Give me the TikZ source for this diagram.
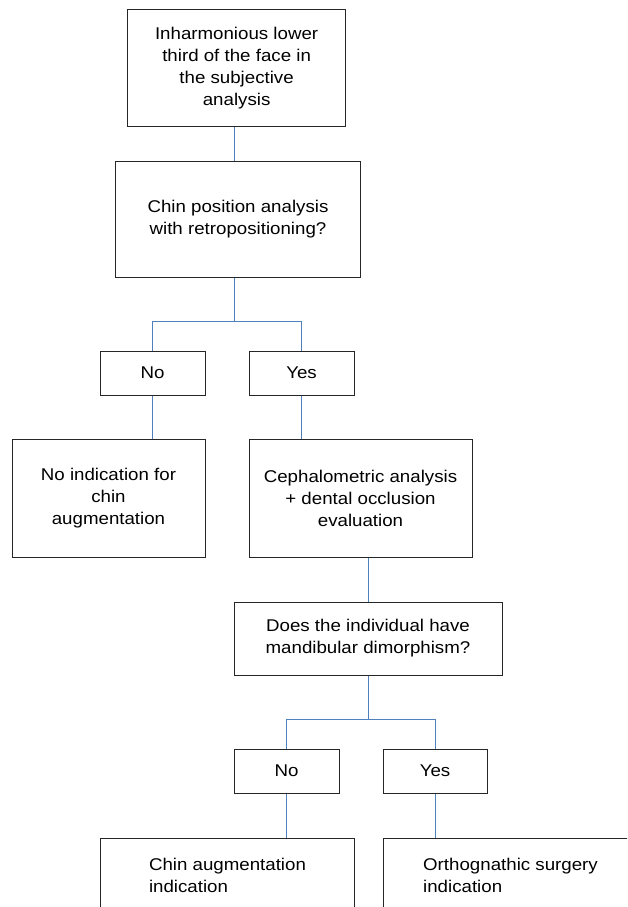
\documentclass[tikz,border=0pt]{standalone}
\usepackage{fontspec}
\setmainfont{Liberation Sans}[FakeStretch=1.1]
\definecolor{linkblue}{RGB}{79,129,189}
\newcommand{\diafont}{\fontsize{17}{22}\selectfont}

\begin{document}
\begin{tikzpicture}[
        x=1pt, y=-1pt, % pixel grid of the figure
        box/.style={draw=black!85, line width=1pt, rectangle, align=center, inner sep=0pt, font=\diafont},
        answer/.style={box, minimum width=105, minimum height=44},
        leaf/.style={box, anchor=north west, align=left, minimum width=254, minimum height=73},
        link/.style={draw=linkblue, line width=0.8pt}
    ]
    \useasboundingbox (0,0) rectangle (627,907);
    \clip (0,0) rectangle (627,907);
    % Question nodes
    \node[box, minimum width=218, minimum height=117] (start) at (236.6,68) {Inharmonious lower\\third of the face in\\the subjective\\analysis};
    \node[box, minimum width=245, minimum height=116] (chin) at (238,219) {Chin position analysis\\with retropositioning?};
    \node[answer] (no1) at (152.5,373) {No};
    \node[answer] (yes1) at (301.5,373) {Yes};
    \node[box, minimum width=193, minimum height=118] (noind) at (108.5,498) {No indication for\\chin\\augmentation};
    \node[box, minimum width=223, minimum height=118] (ceph) at (360.5,498) {Cephalometric analysis\\+ dental occlusion\\evaluation};
    \node[box, minimum width=268, minimum height=73] (does) at (368,638.5) {Does the individual have\\mandibular dimorphism?};
    \node[answer] (no2) at (286.5,771) {No};
    \node[answer, minimum width=104] (yes2) at (435,771) {Yes};
    % Outcome nodes (cut by the page edge)
    \node[leaf] (chinaug) at (100,838) {Chin augmentation\\indication};
    \node[leaf] (ortho) at (383,838) {Orthognathic surgery\\indication};
    % Connectors
    \coordinate (fork1) at (234,321);
    \coordinate (fork2) at (368,719);
    \draw[link] (start.south -| fork1) -- (chin.north -| fork1);
    \draw[link] (chin.south -| fork1) -- (fork1);
    \draw[link] (fork1) -| (no1.north);
    \draw[link] (fork1) -| (yes1.north);
    \draw[link] (no1.south) -- (no1.south |- noind.north);
    \draw[link] (yes1.south) -- (yes1.south |- ceph.north);
    \draw[link] (ceph.south -| does.north) -- (does.north);
    \draw[link] (does.south) -- (fork2);
    \draw[link] (fork2) -| (no2.north);
    \draw[link] (fork2) -| (yes2.north);
    \draw[link] (no2.south) -- (no2.south |- chinaug.north);
    \draw[link] (yes2.south) -- (yes2.south |- ortho.north);
\end{tikzpicture}
\end{document}
